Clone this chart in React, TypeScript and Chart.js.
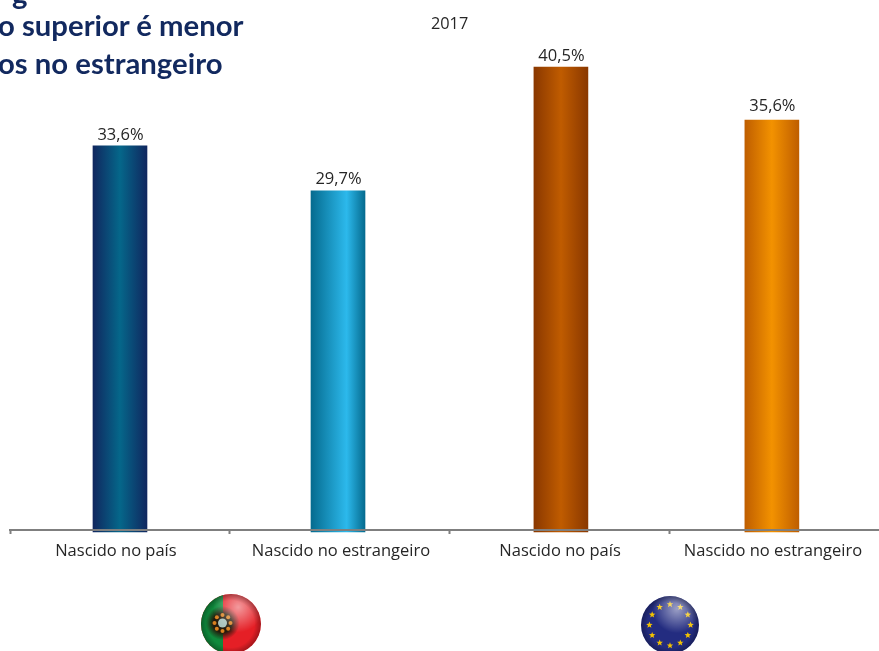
import React, { useEffect, useRef } from "react";
import { Chart, registerables } from "chart.js";

Chart.register(...registerables);

const categories = ["Nascido no país", "Nascido no estrangeiro", "Nascido no país", "Nascido no estrangeiro"];
const portugalValues = [33.6, 29.7];
const euValues = [40.5, 35.6];
const yearLabel = "2017";
const titleLines = ["g", "o superior é menor", "os no estrangeiro"];

// Layout of the axis: one unit on x is one slot between tick marks.
const SLOT = 219.75;
const CHART_LEFT = 10;
const CHART_TOP = 30;
const CHART_BOTTOM = 530;
const W = 879;
const H = 651;
const slotTicks = [0, 1, 2, 3];
const labelCentres = [0.482, 1.506, 2.503, 3.472];
const barCentres = [0.5005, 1.4926, 2.507, 3.467];
const labelLift = [[10.5, 12], [11, 13.5]];

const gradients: string[][] = [
  ["#10275f", "#05678a", "#10275f"],
  ["#056b8f", "#2cb9ec", "#056b8f"],
  ["#8a3800", "#c05c00", "#8a3800"],
  ["#bf5e00", "#f39200", "#bf5e00"],
];
const gradientPeak = [0.5, 0.66, 0.5, 0.5];

const BAR_W = 54;
const FONT = "'Open Sans', sans-serif";
const TEXT = "#262626";

function barFill(c: any, offset: number) {
  if (c.dataIndex == null) return "#888888";
  const index = c.dataIndex + offset;
  const colours = gradients[index];
  const scale = c.chart.scales.x;
  const cx = scale ? scale.getPixelForValue(barCentres[index]) : NaN;
  if (!Number.isFinite(cx)) return colours[1];
  const g = c.chart.ctx.createLinearGradient(cx - BAR_W / 2, 0, cx + BAR_W / 2, 0);
  g.addColorStop(0, colours[0]);
  g.addColorStop(gradientPeak[index], colours[1]);
  g.addColorStop(1, colours[2]);
  return g;
}

const valueLabels = {
  id: "valueLabels",
  afterDatasetsDraw(chart: any) {
    const { ctx } = chart;
    ctx.save();
    ctx.font = `16.5px ${FONT}`;
    ctx.fillStyle = TEXT;
    ctx.textAlign = "center";
    ctx.textBaseline = "middle";
    chart.data.datasets.forEach((ds: any, d: number) => {
      chart.getDatasetMeta(d).data.forEach((el: any, i: number) => {
        const text = ds.data[i].y.toFixed(1).replace(".", ",") + "%";
        ctx.fillText(text, el.x + 0.5, el.y - labelLift[d][i]);
      });
    });
    ctx.restore();
  },
};

function Globe({ kind, cx, cy, r }: { kind: "pt" | "eu"; cx: number; cy: number; r: number }) {
  const id = `shine-${kind}`;
  const stars = Array.from({ length: 12 }, (_, i) => {
    const a = (i / 12) * Math.PI * 2;
    const sx = 30 + 21.3 * Math.sin(a);
    const sy = 30 - 21.3 * Math.cos(a);
    const pts = Array.from({ length: 10 }, (_, k) => {
      const b = (k / 10) * Math.PI * 2;
      const rr = k % 2 ? 1.5 : 3.5;
      return `${sx + rr * Math.sin(b)},${sy - rr * Math.cos(b)}`;
    }).join(" ");
    return <polygon key={i} points={pts} fill="#f2c200" />;
  });
  const emblemDots = Array.from({ length: 8 }, (_, i) => {
    const a = (i / 8) * Math.PI * 2;
    return (
      <circle
        key={i}
        cx={21.5 + 8 * Math.sin(a)}
        cy={29 - 8 * Math.cos(a)}
        r="2"
        fill="#d8801f"
      />
    );
  });
  return (
    <svg
      width={2 * r}
      height={2 * r}
      viewBox="0 0 60 60"
      style={{ position: "absolute", left: cx - r, top: cy - r }}
    >
      <defs>
        <radialGradient id={id} cx="0.62" cy="0.22" r="0.42">
          <stop offset="0" stopColor="#fff" stopOpacity="0.55" />
          <stop offset="1" stopColor="#fff" stopOpacity="0" />
        </radialGradient>
        <radialGradient id={`${id}-edge`} cx="0.5" cy="0.5" r="0.5">
          <stop offset="0.78" stopColor="#000" stopOpacity="0" />
          <stop offset="1" stopColor="#000" stopOpacity="0.3" />
        </radialGradient>
        <radialGradient id={`${id}-emblem`} cx="0.5" cy="0.5" r="0.5">
          <stop offset="0.55" stopColor="#241a0c" stopOpacity="1" />
          <stop offset="1" stopColor="#241a0c" stopOpacity="0" />
        </radialGradient>
        <clipPath id={`${id}-clip`}>
          <circle cx="30" cy="30" r="30" />
        </clipPath>
      </defs>
      <g clipPath={`url(#${id}-clip)`}>
        {kind === "pt" ? (
          <>
            <rect x="0" y="0" width="60" height="60" fill="#e51f26" />
            <rect x="0" y="0" width="22" height="60" fill="#0f8a3c" />
            <circle cx="21.5" cy="29" r="17" fill={`url(#${id}-emblem)`} />
            {emblemDots}
            <circle cx="21.5" cy="29" r="4.5" fill="#a9c3bd" />
          </>
        ) : (
          <>
            <rect x="0" y="0" width="60" height="60" fill="#232c80" />
            {stars}
          </>
        )}
        <circle cx="30" cy="30" r="30" fill={`url(#${id})`} />
        <circle cx="30" cy="30" r="30" fill={`url(#${id}-edge)`} />
      </g>
    </svg>
  );
}

export default function App() {
  const ref = useRef<HTMLCanvasElement>(null);

  useEffect(() => {
    document.body.style.margin = "0";
    const plotW = W - CHART_LEFT;
    const plotH = CHART_BOTTOM - CHART_TOP;
    const ticksAt = [...slotTicks, ...labelCentres].sort((a, b) => a - b);
    const chart = new Chart(ref.current!, {
      type: "bar",
      data: {
        labels: categories,
        datasets: [
          {
            label: "Portugal",
            data: portugalValues.map((y, i) => ({ x: barCentres[i], y })),
            yAxisID: "y",
            base: 0.147,
            backgroundColor: (c: any) => barFill(c, 0),
            grouped: false,
            barThickness: BAR_W,
            clip: false,
          },
          {
            label: "UE",
            data: euValues.map((y, i) => ({ x: barCentres[i + 2], y })),
            yAxisID: "y2",
            base: -2.475,
            backgroundColor: (c: any) => barFill(c, 2),
            grouped: false,
            barThickness: BAR_W,
            clip: false,
          },
        ],
      } as any,
      options: {
        animation: false,
        responsive: false,
        layout: { padding: { left: CHART_LEFT, top: CHART_TOP, right: 0, bottom: 0 } },
        plugins: { legend: { display: false }, title: { display: false }, tooltip: { enabled: false } },
        scales: {
          x: {
            type: "linear",
            offset: false,
            min: 0,
            max: plotW / SLOT,
            afterBuildTicks: (scale: any) => {
              scale.ticks = ticksAt.map((value) => ({ value }));
            },
            afterFit: (scale: any) => {
              scale.height = H - CHART_BOTTOM;
            },
            grid: {
              offset: false,
              drawOnChartArea: false,
              drawTicks: true,
              tickLength: 4,
              tickWidth: 2,
              tickColor: (c: any) => (slotTicks.includes(c.tick?.value) ? "#7f7f7f" : "transparent"),
            },
            border: { display: true, color: "#7f7f7f", width: 2, z: 1 },
            ticks: {
              autoSkip: false,
              maxRotation: 0,
              minRotation: 0,
              padding: 7,
              color: TEXT,
              font: { family: FONT, size: 16.5 },
              callback: (value: any) => {
                const i = labelCentres.indexOf(value);
                return i >= 0 ? categories[i] : "";
              },
            },
          },
          y: { display: false, min: 0.32, max: 0.32 + plotH / 11.54 },
          y2: { display: false, min: -2.29, max: -2.29 + plotH / 10.82 },
        },
      } as any,
      plugins: [valueLabels],
    });
    return () => chart.destroy();
  }, []);

  const titleStyle: React.CSSProperties = {
    position: "absolute",
    left: -2,
    margin: 0,
    whiteSpace: "nowrap",
    font: `700 29.3px/1 Lato, sans-serif`,
    color: "#12295f",
  };

  return (
    <div style={{ position: "relative", width: W, height: H, overflow: "hidden", background: "#fff" }}>
      <canvas ref={ref} width={W} height={H} style={{ display: "block" }} />
      <div style={{ ...titleStyle, left: 12, top: -22 }}>{titleLines[0]}</div>
      <div style={{ ...titleStyle, top: 10 }}>{titleLines[1]}</div>
      <div style={{ ...titleStyle, top: 48 }}>{titleLines[2]}</div>
      <div
        style={{
          position: "absolute",
          left: 431,
          top: 13,
          font: `16.3px/20px ${FONT}`,
          color: TEXT,
        }}
      >
        {yearLabel}
      </div>
      <Globe kind="pt" cx={230.5} cy={624} r={30} />
      <Globe kind="eu" cx={670} cy={625} r={29} />
    </div>
  );
}
